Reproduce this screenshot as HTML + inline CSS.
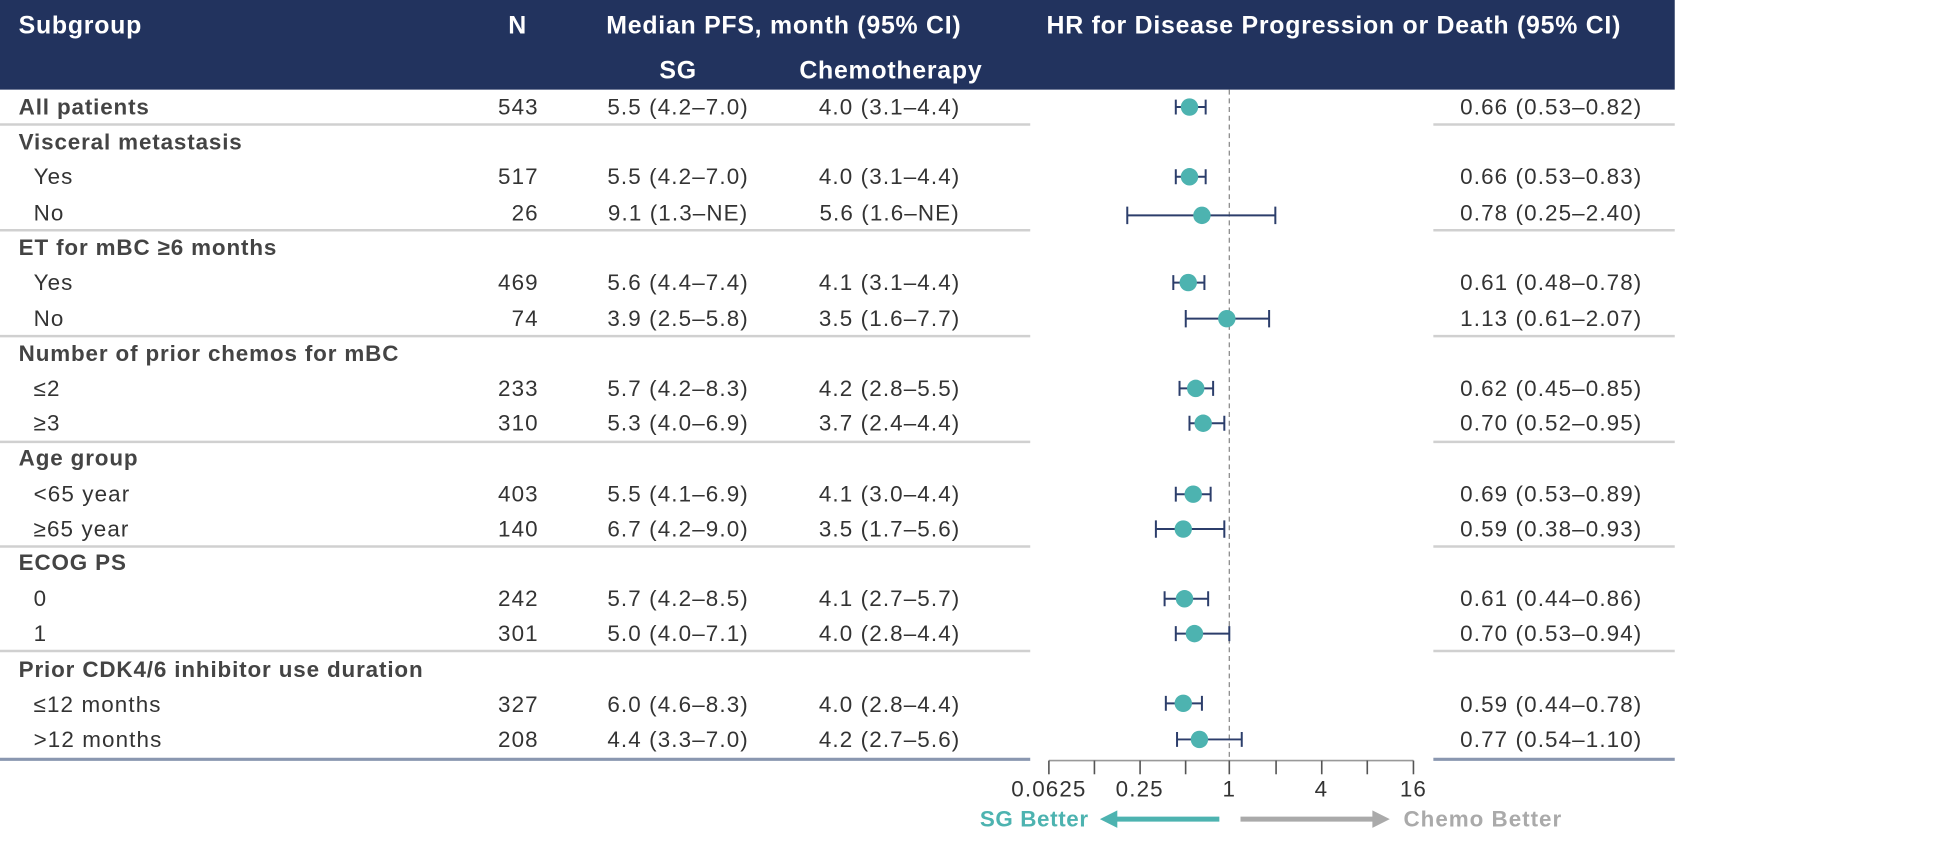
<!DOCTYPE html>
<html><head><meta charset="utf-8"><style>
html,body{margin:0;padding:0;background:#fff;width:1941px;height:844px;overflow:hidden}
svg{display:block}
text{font-family:"Liberation Sans",Arial,sans-serif}
.h{fill:#fff;font-weight:bold;font-size:20px;letter-spacing:0.6px}
.t{fill:#333;font-size:18px;letter-spacing:0.9px}
.g{fill:#444;font-size:18px;font-weight:bold;letter-spacing:0.7px}
</style></head><body>
<svg width="1941" height="844" viewBox="0 0 1560 678" preserveAspectRatio="none" xmlns="http://www.w3.org/2000/svg">
<rect x="0" y="0" width="1346" height="72" fill="#22335e"/>
<text class="h" x="15" y="27">Subgroup</text>
<text class="h" x="416" y="27" text-anchor="middle">N</text>
<text class="h" x="630" y="27" text-anchor="middle">Median PFS, month (95% CI)</text>
<text class="h" x="1072" y="27" text-anchor="middle">HR for Disease Progression or Death (95% CI)</text>
<text class="h" x="545" y="63" text-anchor="middle">SG</text>
<text class="h" x="716" y="63" text-anchor="middle">Chemotherapy</text>

<g stroke="#d0d0d0" stroke-width="2">
<line x1="0" y1="100" x2="828" y2="100"/><line x1="1152" y1="100" x2="1346" y2="100"/>
<line x1="0" y1="185" x2="828" y2="185"/><line x1="1152" y1="185" x2="1346" y2="185"/>
<line x1="0" y1="270" x2="828" y2="270"/><line x1="1152" y1="270" x2="1346" y2="270"/>
<line x1="0" y1="355" x2="828" y2="355"/><line x1="1152" y1="355" x2="1346" y2="355"/>
<line x1="0" y1="439" x2="828" y2="439"/><line x1="1152" y1="439" x2="1346" y2="439"/>
<line x1="0" y1="523" x2="828" y2="523"/><line x1="1152" y1="523" x2="1346" y2="523"/>
</g>
<g stroke="#8a97b0" stroke-width="2.5">
<line x1="0" y1="610" x2="828" y2="610"/><line x1="1152" y1="610" x2="1346" y2="610"/>
</g>

<g>
<text class="g" x="15" y="92">All patients</text>
<text class="g" x="15" y="120">Visceral metastasis</text>
<text class="g" x="15" y="205">ET for mBC ≥6 months</text>
<text class="g" x="15" y="290">Number of prior chemos for mBC</text>
<text class="g" x="15" y="374">Age group</text>
<text class="g" x="15" y="458">ECOG PS</text>
<text class="g" x="15" y="544">Prior CDK4/6 inhibitor use duration</text>
</g>
<g class="t">
<text x="27" y="148">Yes</text><text x="27" y="177">No</text>
<text x="27" y="233">Yes</text><text x="27" y="262">No</text>
<text x="27" y="318">≤2</text><text x="27" y="346">≥3</text>
<text x="27" y="403">&lt;65 year</text><text x="27" y="431">≥65 year</text>
<text x="27" y="487">0</text><text x="27" y="515">1</text>
<text x="27" y="572">≤12 months</text><text x="27" y="600">&gt;12 months</text>
</g>
<g class="t" text-anchor="end">
<text x="433" y="92">543</text><text x="433" y="148">517</text><text x="433" y="177">26</text>
<text x="433" y="233">469</text><text x="433" y="262">74</text>
<text x="433" y="318">233</text><text x="433" y="346">310</text>
<text x="433" y="403">403</text><text x="433" y="431">140</text>
<text x="433" y="487">242</text><text x="433" y="515">301</text>
<text x="433" y="572">327</text><text x="433" y="600">208</text>
</g>
<g class="t" text-anchor="middle">
<text x="545" y="92">5.5 (4.2–7.0)</text><text x="715" y="92">4.0 (3.1–4.4)</text>
<text x="545" y="148">5.5 (4.2–7.0)</text><text x="715" y="148">4.0 (3.1–4.4)</text>
<text x="545" y="177">9.1 (1.3–NE)</text><text x="715" y="177">5.6 (1.6–NE)</text>
<text x="545" y="233">5.6 (4.4–7.4)</text><text x="715" y="233">4.1 (3.1–4.4)</text>
<text x="545" y="262">3.9 (2.5–5.8)</text><text x="715" y="262">3.5 (1.6–7.7)</text>
<text x="545" y="318">5.7 (4.2–8.3)</text><text x="715" y="318">4.2 (2.8–5.5)</text>
<text x="545" y="346">5.3 (4.0–6.9)</text><text x="715" y="346">3.7 (2.4–4.4)</text>
<text x="545" y="403">5.5 (4.1–6.9)</text><text x="715" y="403">4.1 (3.0–4.4)</text>
<text x="545" y="431">6.7 (4.2–9.0)</text><text x="715" y="431">3.5 (1.7–5.6)</text>
<text x="545" y="487">5.7 (4.2–8.5)</text><text x="715" y="487">4.1 (2.7–5.7)</text>
<text x="545" y="515">5.0 (4.0–7.1)</text><text x="715" y="515">4.0 (2.8–4.4)</text>
<text x="545" y="572">6.0 (4.6–8.3)</text><text x="715" y="572">4.0 (2.8–4.4)</text>
<text x="545" y="600">4.4 (3.3–7.0)</text><text x="715" y="600">4.2 (2.7–5.6)</text>
</g>
<g class="t" text-anchor="end">
<text x="1320" y="92">0.66 (0.53–0.82)</text>
<text x="1320" y="148">0.66 (0.53–0.83)</text>
<text x="1320" y="177">0.78 (0.25–2.40)</text>
<text x="1320" y="233">0.61 (0.48–0.78)</text>
<text x="1320" y="262">1.13 (0.61–2.07)</text>
<text x="1320" y="318">0.62 (0.45–0.85)</text>
<text x="1320" y="346">0.70 (0.52–0.95)</text>
<text x="1320" y="403">0.69 (0.53–0.89)</text>
<text x="1320" y="431">0.59 (0.38–0.93)</text>
<text x="1320" y="487">0.61 (0.44–0.86)</text>
<text x="1320" y="515">0.70 (0.53–0.94)</text>
<text x="1320" y="572">0.59 (0.44–0.78)</text>
<text x="1320" y="600">0.77 (0.54–1.10)</text>
</g>

<line x1="988" y1="72" x2="988" y2="611" stroke="#888" stroke-width="1" stroke-dasharray="4,3"/>

<g stroke="#2c3e6b" stroke-width="1.6" fill="none">
<path d="M945 86H969M945 80V92M969 80V92"/>
<path d="M945 142H969M945 136V148M969 136V148"/>
<path d="M906 173H1025M906 166V180M1025 166V180"/>
<path d="M943 227H968M943 221V233M968 221V233"/>
<path d="M953 256H1020M953 249V263M1020 249V263"/>
<path d="M948 312H975M948 306V318M975 306V318"/>
<path d="M956 340H984M956 334V346M984 334V346"/>
<path d="M945 397H973M945 391V403M973 391V403"/>
<path d="M929 425H984M929 418V432M984 418V432"/>
<path d="M936 481H971M936 475V487M971 475V487"/>
<path d="M945 509H988M945 503V515M988 503V515"/>
<path d="M937 565H966M937 559V571M966 559V571"/>
<path d="M946 594H998M946 588V600M998 588V600"/>
</g>
<g fill="#4db3b0">
<circle cx="956" cy="86" r="7"/><circle cx="956" cy="142" r="7"/><circle cx="966" cy="173" r="7"/>
<circle cx="955" cy="227" r="7"/><circle cx="986" cy="256" r="7"/>
<circle cx="961" cy="312" r="7"/><circle cx="967" cy="340" r="7"/>
<circle cx="959" cy="397" r="7"/><circle cx="951" cy="425" r="7"/>
<circle cx="952" cy="481" r="7"/><circle cx="960" cy="509" r="7"/>
<circle cx="951" cy="565" r="7"/><circle cx="964" cy="594" r="7"/>
</g>

<g stroke="#555" stroke-width="1.3">
<line x1="843" y1="611" x2="1136" y2="611" stroke="#999"/>
<line x1="843" y1="611" x2="843" y2="622"/><line x1="879.6" y1="611" x2="879.6" y2="622"/>
<line x1="916.3" y1="611" x2="916.3" y2="622"/><line x1="952.9" y1="611" x2="952.9" y2="622"/>
<line x1="988" y1="611" x2="988" y2="622"/><line x1="1025.6" y1="611" x2="1025.6" y2="622"/>
<line x1="1062.3" y1="611" x2="1062.3" y2="622"/><line x1="1098.9" y1="611" x2="1098.9" y2="622"/>
<line x1="1136" y1="611" x2="1136" y2="622"/>
</g>
<g class="t" text-anchor="middle">
<text x="843" y="640">0.0625</text><text x="916" y="640">0.25</text><text x="988" y="640">1</text>
<text x="1062" y="640">4</text><text x="1136" y="640">16</text>
</g>
<line x1="980" y1="658" x2="895" y2="658" stroke="#4db3b0" stroke-width="4"/>
<path d="M884 658L898 651L898 665Z" fill="#4db3b0"/>
<line x1="997" y1="658" x2="1104" y2="658" stroke="#aaa" stroke-width="4"/>
<path d="M1117 658L1103 651L1103 665Z" fill="#aaa"/>
<text x="875" y="664" text-anchor="end" style="fill:#4db3b0;font-size:18px;font-weight:bold;letter-spacing:0.5px">SG Better</text>
<text x="1128" y="664" style="fill:#aaa;font-size:18px;font-weight:bold;letter-spacing:0.8px">Chemo Better</text>
</svg>
</body></html>
